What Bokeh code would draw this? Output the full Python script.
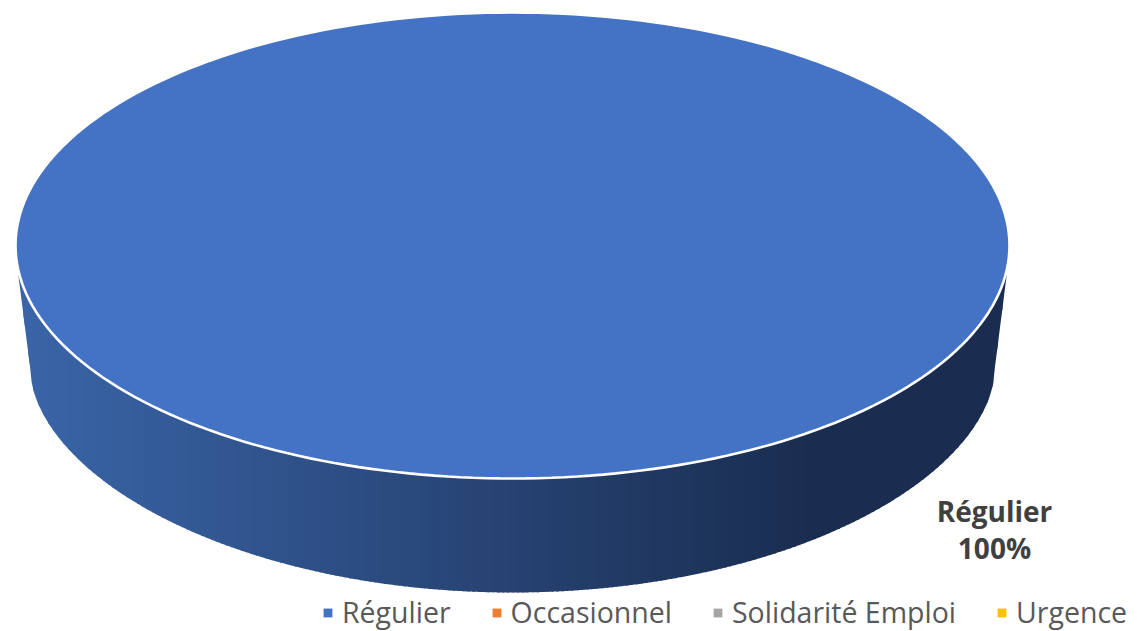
import math
from bokeh.embed import file_html
from bokeh.resources import INLINE
from bokeh.models import Range1d, Legend, LegendItem
from bokeh.plotting import figure
from bokeh.core.properties import value

categories = ["Régulier", "Occasionnel", "Solidarité Emploi", "Urgence"]
shares = [100, 0, 0, 0]
colors = ["#4472C4", "#ED7D31", "#A5A5A5", "#FFC000"]

W, H = 1137, 631
# pie geometry (figure pixels)
CX, CY, RX, RY = 512, 245, 497, 233
BX, BY, BRX, BRY = 512, 370, 482, 222
RIM_TOP_Y = 276
SIDE_LEFT = (58, 101, 168)
SIDE_RIGHT = (26, 45, 80)
GRAD_END = 0.80

p = figure(width=W, height=H, output_backend="svg", toolbar_location=None,
           x_range=Range1d(0, W), y_range=Range1d(H, 0), min_border=0,
           outline_line_color=None, background_fill_color="white")
p.xaxis.visible = False
p.yaxis.visible = False
p.grid.visible = False


def bottom_edge(x):
    t = min(1.0, abs((x - BX) / BRX))
    return BY + BRY * (1 - t * t) ** 0.55


def top_edge(x):
    t = min(1.0, abs((x - CX) / RX))
    return CY + RY * math.sqrt(1 - t * t)


left, right = CX - RX + 3, CX + RX - 3


def lower(x):
    if x < BX - BRX:
        return RIM_TOP_Y + (BY - RIM_TOP_Y) * (x - left) / (BX - BRX - left)
    if x > BX + BRX:
        return RIM_TOP_Y + (BY - RIM_TOP_Y) * (right - x) / (right - BX - BRX)
    return bottom_edge(x)


# side wall as vertical gradient strips, each overlapped by the next
n = 200
step = (right - left) / n
for i in range(n):
    x0 = left + step * i
    x1 = min(right, x0 + step + 1.5)
    xm = x0 + step / 2
    f = min(1.0, ((xm - left) / (right - left)) / GRAD_END)
    c = [round(a + (b - a) * f) for a, b in zip(SIDE_LEFT, SIDE_RIGHT)]
    col = "#%02x%02x%02x" % tuple(c)
    sx = [x0 + (x1 - x0) * k / 4 for k in range(5)]
    p.patch(sx + sx[::-1],
            [top_edge(x) - 3 for x in sx] + [lower(x) for x in sx[::-1]],
            fill_color=col, line_color=None)

# top face: one slice per category, angles follow the shares
total = sum(shares)
a = -90.0
for cat, s, col in zip(categories, shares, colors):
    sweep = 360.0 * s / total
    if s > 0:
        m = 240
        ang = [math.radians(a + sweep * k / m) for k in range(m + 1)]
        px = [CX + RX * math.cos(t) for t in ang]
        py = [CY + RY * math.sin(t) for t in ang]
        p.patch(px, py, fill_color=col, line_color="white", line_width=2.6)
    a += sweep

# legend keys (a NaN box draws nothing on the plot, only its swatch in the legend)
nan = float("nan")
items = []
for cat, col in zip(categories, colors):
    r = p.quad(left=[nan], right=[nan], top=[nan], bottom=[nan], fill_color=col, line_color=None)
    items.append(LegendItem(label=cat, renderers=[r], index=0))

lg = Legend(items=items, orientation="horizontal", location=(322, 0),
            glyph_width=11, glyph_height=11, label_standoff=9, spacing=40,
            padding=0, margin=0, border_line_color=None, background_fill_alpha=0,
            label_text_font="Open Sans", label_text_font_size="28.5px", label_text_color="#595959")
p.add_layout(lg, "center")

# data label
lbl = f"{categories[0]}\n{shares[0]}%"
p.text([994], [529], text=[lbl], text_align="center", text_baseline="middle",
       text_font=value("Open Sans"), text_font_style="bold", text_font_size="28px",
       text_color="#404040", text_line_height=0.96)

open("out.html", "w").write(file_html(p, INLINE))
